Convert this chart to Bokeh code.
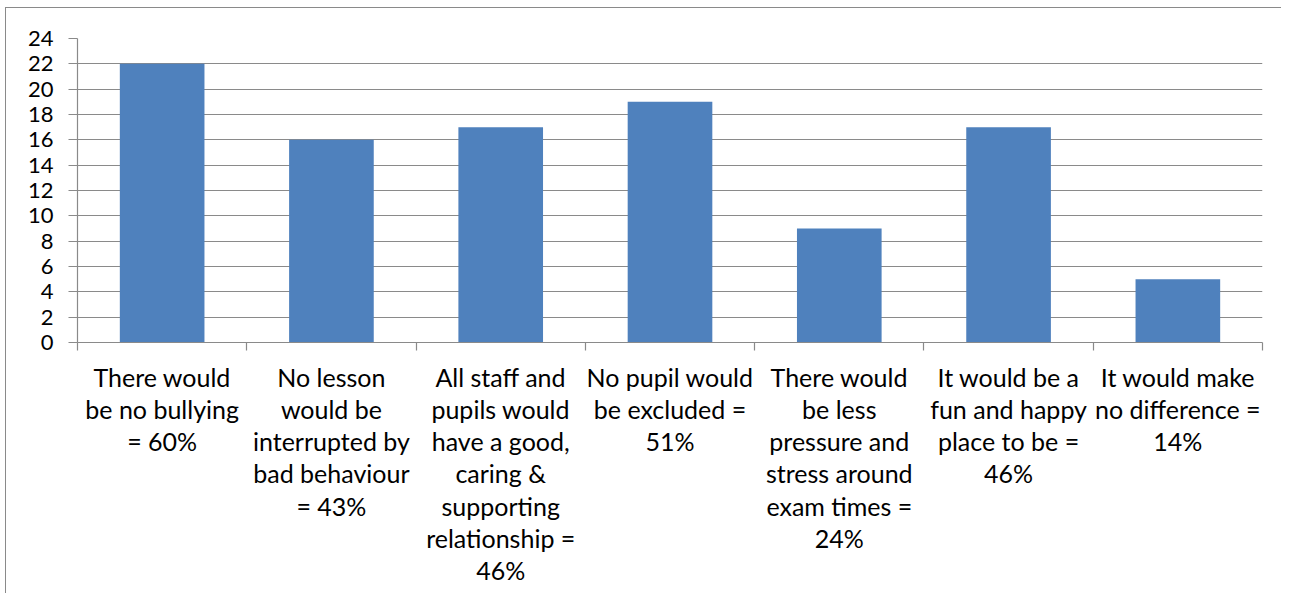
from bokeh.plotting import figure
from bokeh.models import FixedTicker, ColumnDataSource, Range1d
from bokeh.embed import file_html
from bokeh.resources import INLINE

categories = [
    "There would\nbe no bullying\n= 60%",
    "No lesson\nwould be\ninterrupted by\nbad behaviour\n= 43%",
    "All staff and\npupils would\nhave a good,\ncaring &\nsupporting\nrelationship =\n46%",
    "No pupil would\nbe excluded =\n51%",
    "There would\nbe less\npressure and\nstress around\nexam times =\n24%",
    "It would be a\nfun and happy\nplace to be =\n46%",
    "It would make\nno difference =\n14%",
]
values = [22, 16, 17, 19, 9, 17, 5]
y_ticks = list(range(0, 25, 2))

FONT = "Lato"
GRID = "#8a8a8a"
BAR = "#4F81BD"

n = len(categories)
centers = [i + 0.5 for i in range(n)]
source = ColumnDataSource(dict(x=centers, top=values))

p = figure(
    width=1276, height=586,
    x_range=Range1d(0, n), y_range=Range1d(0, 24),
    output_backend="svg", toolbar_location=None,
    min_border_left=71, min_border_right=20, min_border_top=30, min_border_bottom=252,
    styles={"margin-left": "5px", "margin-top": "7px",
            "border-top": "1.5px solid #8a8a8a", "border-left": "1.5px solid #8a8a8a"},
)
p.outline_line_color = None
p.background_fill_color = "white"
p.border_fill_color = "white"

p.vbar(x="x", top="top", width=0.5, bottom=0, source=source,
       fill_color=BAR, line_color=None)

# y axis
p.yaxis.ticker = FixedTicker(ticks=y_ticks)
p.yaxis.axis_line_color = GRID
p.yaxis.axis_line_width = 1.2
p.yaxis.major_tick_line_color = GRID
p.yaxis.major_tick_line_width = 1.2
p.yaxis.major_tick_out = 9
p.yaxis.major_tick_in = 0
p.yaxis.minor_tick_line_color = None
p.yaxis.major_label_text_font = FONT
p.yaxis.major_label_text_font_size = "22px"
p.yaxis.major_label_text_color = "black"
p.yaxis.major_label_standoff = 15

# x axis: labels at centers, minor ticks at boundaries
p.xaxis.ticker = FixedTicker(ticks=centers, minor_ticks=list(range(0, n + 1)))
p.xaxis.major_label_overrides = {c: lab for c, lab in zip(centers, categories)}
p.xaxis.axis_line_color = GRID
p.xaxis.axis_line_width = 1.2
p.xaxis.major_tick_line_color = None
p.xaxis.major_tick_out = 0
p.xaxis.major_tick_in = 0
p.xaxis.minor_tick_line_color = GRID
p.xaxis.minor_tick_line_width = 1.2
p.xaxis.minor_tick_out = 8
p.xaxis.minor_tick_in = 0
p.xaxis.major_label_text_font = FONT
p.xaxis.major_label_text_font_size = "25px"
p.xaxis.major_label_text_color = "black"
p.xaxis.major_label_text_line_height = 1.075
p.xaxis.major_label_standoff = 11

p.xgrid.grid_line_color = None
p.ygrid.ticker = FixedTicker(ticks=y_ticks)
p.ygrid.grid_line_color = GRID
p.ygrid.grid_line_width = 1.2

open("out.html", "w").write(file_html(p, INLINE))
